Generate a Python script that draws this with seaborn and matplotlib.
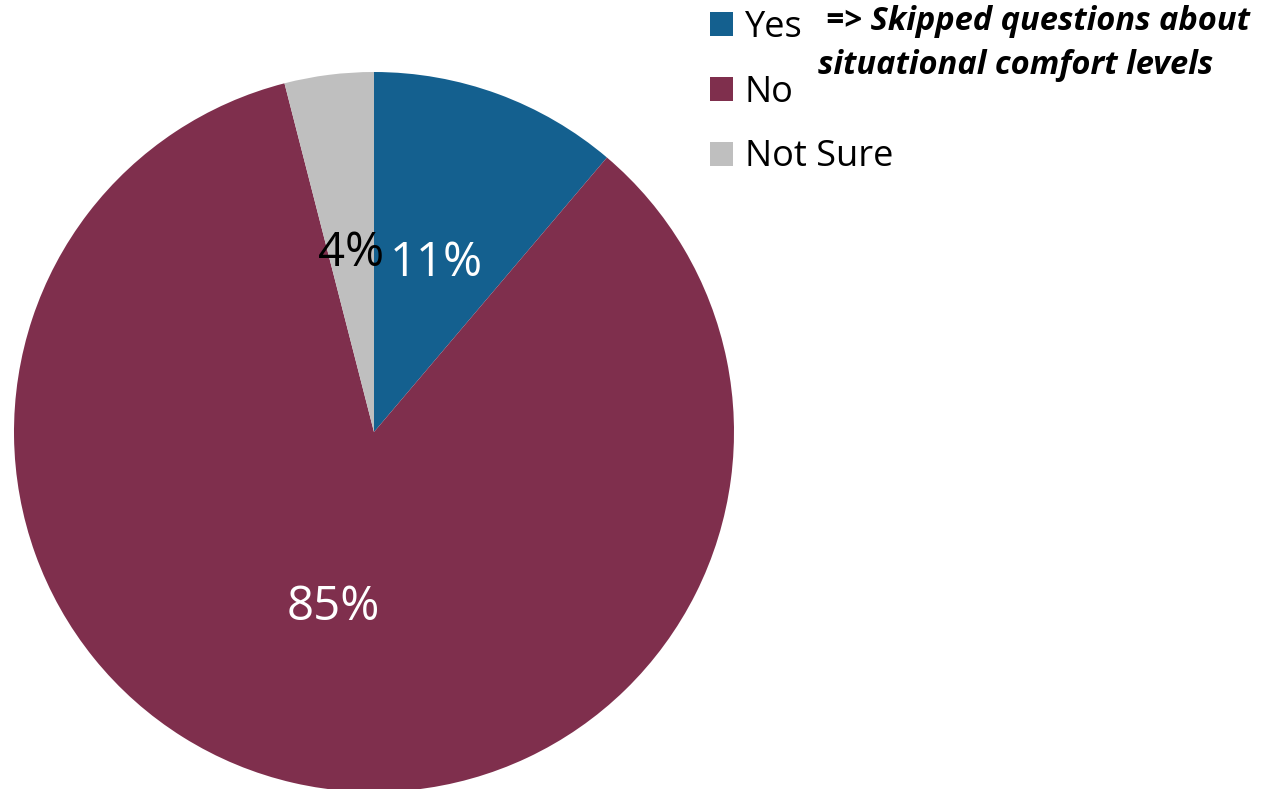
import matplotlib
matplotlib.use("Agg")
import matplotlib.pyplot as plt
import seaborn as sns
import numpy as np
from matplotlib.patches import Patch

categories = ["Yes", "No", "Not Sure"]
values = [11.2, 84.8, 4.0]
pct_labels = ["11%", "85%", "4%"]
colors = ["#14608F", "#7F2F4D", "#BFBFBF"]
label_colors = ["white", "white", "black"]
note_lines = ["=> Skipped questions about", "situational comfort levels"]

sns.set_theme(style="white")
plt.rcParams["font.family"] = ["Open Sans", "DejaVu Sans"]

W, H = 1265, 789
fig = plt.figure(figsize=(W / 100, H / 100), dpi=100)
fig.patch.set_facecolor("white")

cx, cy, R = 374, 432, 360
ax = fig.add_axes([(cx - R) / W, (H - cy - R) / H, 2 * R / W, 2 * R / H])
palette = sns.color_palette(colors)
wedges, _ = ax.pie(values, colors=palette, startangle=90, counterclock=False,
                   radius=1.0, wedgeprops=dict(linewidth=0))
for w, lab, col in zip(wedges, pct_labels, label_colors):
    ang = np.deg2rad((w.theta1 + w.theta2) / 2)
    ax.text(0.5 * np.cos(ang), 0.5 * np.sin(ang), lab, ha="center", va="center",
            fontsize=34, color=col)
ax.set_xlim(-1, 1)
ax.set_ylim(-1, 1)
ax.set_aspect("equal")
ax.axis("off")

handles = [Patch(facecolor=c, edgecolor="none") for c in colors]
leg = fig.legend(handles, categories, loc="upper left",
                 bbox_to_anchor=(706 / W, 1 - 6 / H), frameon=False, fontsize=26,
                 handlelength=0.64, handleheight=0.64, handletextpad=0.33,
                 labelspacing=0.8, borderpad=0.1, borderaxespad=0)
for t in leg.get_texts():
    t.set_color("black")

note_x = [826, 818]
note_y = [22, 65]
for txt, x, y in zip(note_lines, note_x, note_y):
    fig.text(x / W, 1 - y / H, txt, ha="left", va="center", fontsize=23.5,
             fontweight="bold", fontstyle="italic", color="black")

fig.savefig("out.png", dpi=100, facecolor="white")
